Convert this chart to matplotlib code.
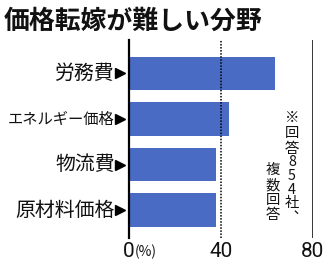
import matplotlib
matplotlib.use("Agg")
import matplotlib.pyplot as plt

categories = ["労務費", "エネルギー価格", "物流費", "原材料価格"]
values = [63.6, 43.4, 37.9, 37.9]
xticks = [0, 40, 80]
xtick_labels = ["0", "40", "80"]
title = "価格転嫁が難しい分野"
note_right = ["※", "回", "答", "8", "5", "4", "社", "︑"]
note_left = ["複", "数", "回", "答"]

W, H = 332, 269
fig = plt.figure(figsize=(W / 100, H / 100), dpi=100)
fig.patch.set_facecolor("white")

cjk = ["Noto Sans CJK JP", "DejaVu Sans"]

x0, x1 = 128.7, 313.0
ytop, ybot = 40, 238
ax = fig.add_axes([x0 / W, 1 - ybot / H, (x1 - x0) / W, (ybot - ytop) / H])
ax.set_facecolor("white")

pos = list(range(len(categories)))
ax.barh(pos, values, height=0.74, color="#4A6BC4", zorder=2)
ax.set_xlim(0, 80)
ax.set_ylim(3.615, -0.736)

for s in ["top", "bottom", "right"]:
    ax.spines[s].set_visible(False)
ax.spines["left"].set_linewidth(1.6)
ax.spines["left"].set_color("black")
ax.axvline(80, color="black", lw=1.1, zorder=3)
ax.axvline(40, color="black", lw=1.1, ls=(0, (1, 1)), zorder=3)

ax.set_xticks([])
ax.set_yticks([])

# category labels with arrow marks
for p, c in zip(pos, categories):
    fs = 14.3 if len(c) <= 5 else 11.0
    ax.text(-0.076, p, c, transform=ax.get_yaxis_transform(), ha="right", va="center",
            fontsize=fs, family=cjk, color="#111111")
ax.plot([-0.045] * len(pos), pos, marker=">", ms=7, ls="none", color="black",
        transform=ax.get_yaxis_transform(), clip_on=False)

# x tick labels
for t, lab in zip(xticks, xtick_labels):
    ax.text(t, -0.02, lab, transform=ax.get_xaxis_transform(), ha="center", va="top",
            fontsize=15, family="Roboto", color="#111111")
fig.text(135 / W, 1 - 252 / H, "(%)", ha="left", va="center", fontsize=10,
         family=cjk, color="#111111")

fig.suptitle(title, x=4 / W, y=1 - 21 / H, ha="left", va="center",
             fontsize=18.6, fontweight="bold", family=cjk, color="#111111")

# vertical note
ys_r = [118.5, 133.5, 148.5, 162.5, 176, 189.5, 203.5, 218]
for ch, yy in zip(note_right, ys_r):
    fig.text(292 / W, 1 - yy / H, ch, ha="center", va="center", fontsize=10.3,
             family=cjk, color="#111111")
ys_l = [170, 185, 200, 215]
for ch, yy in zip(note_left, ys_l):
    fig.text(273 / W, 1 - yy / H, ch, ha="center", va="center", fontsize=10.3,
             family=cjk, color="#111111")

fig.savefig("out.png", dpi=100, facecolor="white")
